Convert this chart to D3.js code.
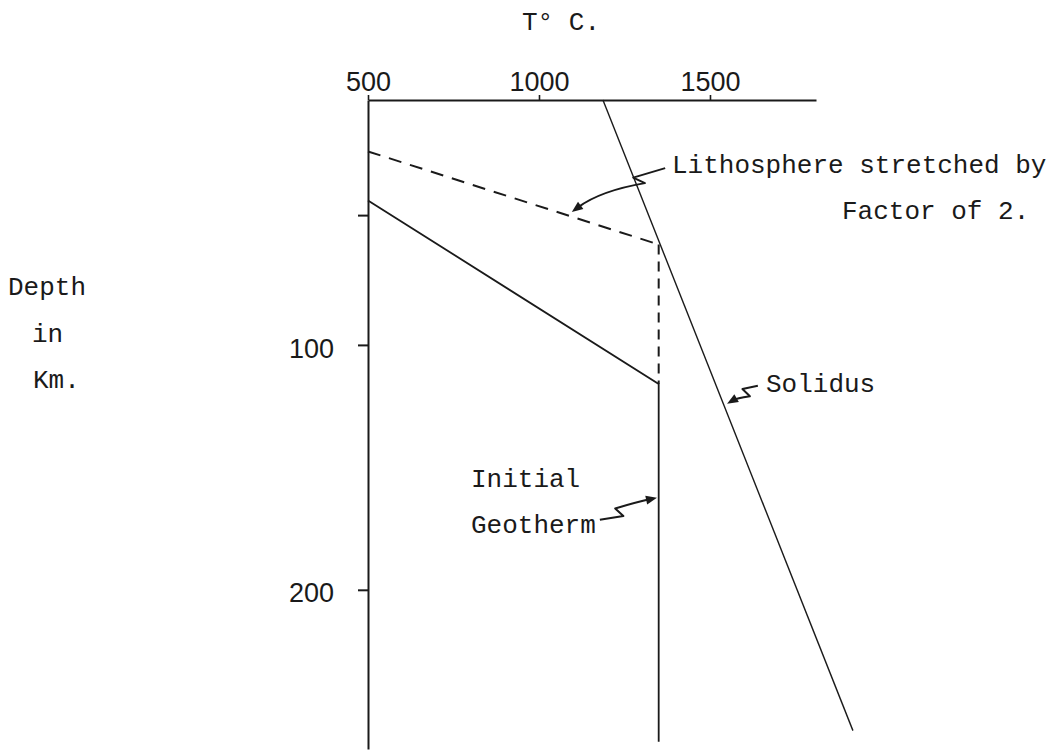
<!DOCTYPE html>
<html>
<head>
<meta charset="utf-8">
<script src="https://cdn.jsdelivr.net/npm/d3@7"></script>
<style>
  html, body { margin: 0; padding: 0; background: #fff; }
  svg { display: block; }
  .mono { font-family: "Liberation Mono", "Courier New", monospace; font-size: 26px; fill: #1a1a1a; }
  .axis text { font-family: "Liberation Sans", Arial, sans-serif; font-size: 27px; fill: #1a1a1a; }
</style>
</head>
<body>
<script>
// Temperature axis (°C) and depth axis (km)
const tempTicks = [500, 1000, 1500];
const depthTicks = [47, 100, 200];
const depthLabels = [100, 200];

// Geotherms and solidus as temperature / depth pairs
const initialTemp = [500, 1350, 1350];
const initialDepth = [41, 116, 262];
const stretchedTemp = [500, 1350, 1350];
const stretchedDepth = [21, 59, 116];
const solidusTemp = [1187, 1918];
const solidusDepth = [0, 257.5];

const W = 1054, H = 751;
const svg = d3.select("body").append("svg").attr("width", W).attr("height", H);

const x = d3.scaleLinear().domain([500, 1810]).range([368, 816]);
const y = d3.scaleLinear().domain([0, 265]).range([100, 749]);

const ink = "#1a1a1a";

// Top temperature axis
const xAxis = d3.axisTop(x).tickValues(tempTicks).tickSize(5).tickSizeOuter(0).tickPadding(4)
  .tickFormat(d3.format("d"));
const gx = svg.append("g").attr("class", "axis").attr("transform", `translate(0,${y(0)})`).call(xAxis);
gx.select(".domain").attr("stroke", ink).attr("stroke-width", 2.2);
gx.selectAll(".tick line").attr("stroke", ink).attr("stroke-width", 1.6);

// Left depth axis
const yAxis = d3.axisLeft(y).tickValues(depthTicks).tickSize(10).tickSizeOuter(0).tickPadding(24)
  .tickFormat(d => depthLabels.includes(d) ? d : "");
const gy = svg.append("g").attr("class", "axis").attr("transform", `translate(${x(500)},0)`).call(yAxis);
gy.select(".domain").attr("stroke", ink).attr("stroke-width", 2);
gy.selectAll(".tick line").attr("stroke", ink).attr("stroke-width", 2);
gy.selectAll(".tick text").attr("dy", "0.45em");

const line = d3.line().x(d => x(d[0])).y(d => y(d[1]));
const pairs = (t, d) => t.map((v, i) => [v, d[i]]);

// Initial geotherm
svg.append("path").attr("d", line(pairs(initialTemp, initialDepth)))
  .attr("fill", "none").attr("stroke", ink).attr("stroke-width", 1.8);

// Stretched lithosphere geotherm (dashed)
const st = pairs(stretchedTemp, stretchedDepth);
svg.append("path").attr("d", line(st.slice(0, 2)))
  .attr("fill", "none").attr("stroke", ink).attr("stroke-width", 2)
  .attr("stroke-dasharray", "13 9");
svg.append("path").attr("d", line(st.slice(1)))
  .attr("fill", "none").attr("stroke", ink).attr("stroke-width", 2)
  .attr("stroke-dasharray", "10 7");

// Solidus
svg.append("path").attr("d", line(pairs(solidusTemp, solidusDepth)))
  .attr("fill", "none").attr("stroke", ink).attr("stroke-width", 1.4);

// Zig-zag annotation arrow, endpoints given as [temperature, depth]
function zigArrow(from, to, zigAt, amp, bow) {
  const S = [x(from[0]), y(from[1])], E = [x(to[0]), y(to[1])];
  const dx = E[0] - S[0], dy = E[1] - S[1], L = Math.hypot(dx, dy);
  const u = [dx / L, dy / L], n = [-u[1], u[0]];
  const at = (t, off) => [S[0] + dx * t + n[0] * off, S[1] + dy * t + n[1] * off];
  const A = at(zigAt, amp), B = at(zigAt - 0.08, -amp);
  const C = at((zigAt + 1) / 2, bow);
  const p = d3.path();
  p.moveTo(S[0], S[1]);
  p.lineTo(A[0], A[1]);
  p.lineTo(B[0], B[1]);
  const head = 11;
  // stop the shaft short of the head tip
  const tx = E[0] - C[0], ty = E[1] - C[1], tl = Math.hypot(tx, ty);
  const tu = [tx / tl, ty / tl];
  const shaftEnd = [E[0] - tu[0] * head * 0.7, E[1] - tu[1] * head * 0.7];
  p.quadraticCurveTo(C[0], C[1], shaftEnd[0], shaftEnd[1]);
  svg.append("path").attr("d", p.toString()).attr("fill", "none")
    .attr("stroke", ink).attr("stroke-width", 2).attr("stroke-linejoin", "round");
  const tn = [-tu[1], tu[0]];
  const base = [E[0] - tu[0] * head, E[1] - tu[1] * head];
  const tri = [E, [base[0] + tn[0] * 4.5, base[1] + tn[1] * 4.5], [base[0] - tn[0] * 4.5, base[1] - tn[1] * 4.5]];
  svg.append("path").attr("d", "M" + tri.map(q => q.join(",")).join("L") + "Z").attr("fill", ink);
}

zigArrow([1369, 27.8], [1096, 45.7], 0.32, 5, 7);
zigArrow([1640, 116.7], [1550, 124], 0.42, 5, 0);
zigArrow([1178, 171.4], [1345, 162.4], 0.38, 5, -3);

// Text
const txt = (s, tx, ty, anchor) => svg.append("text").attr("class", "mono")
  .attr("x", tx).attr("y", ty).attr("text-anchor", anchor || "start").text(s);

txt("T° C.", 522, 30);
txt("Depth", 8, 295);
txt("in", 32, 342);
txt("Km.", 33, 388);
txt("Lithosphere stretched by", 672, 173);
txt("Factor of 2.", 842, 219);
txt("Solidus", 766, 392);
txt("Initial", 471, 487);
txt("Geotherm", 471, 533);
</script>
</body>
</html>
